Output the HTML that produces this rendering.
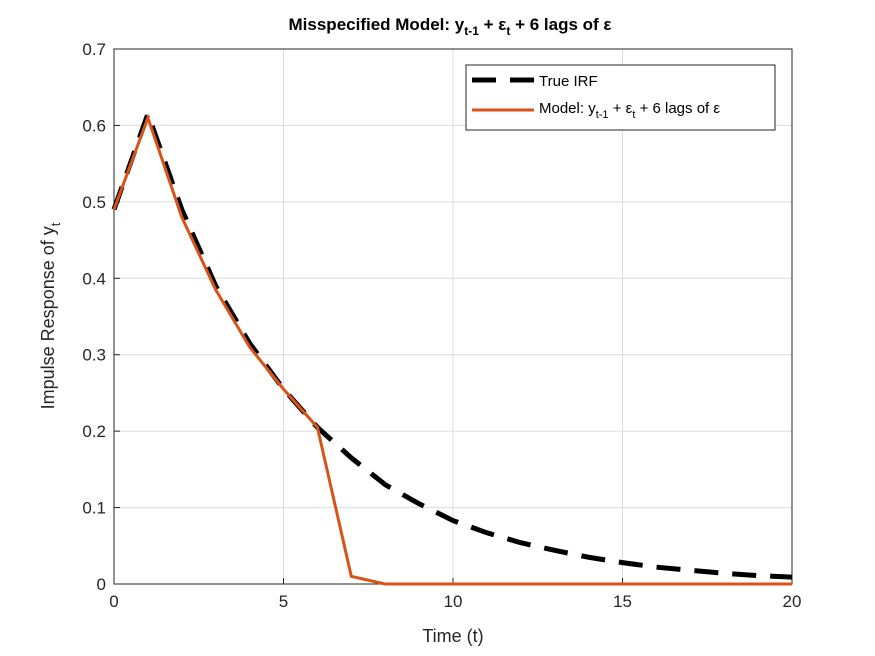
<!DOCTYPE html>
<html><head><meta charset="utf-8"><style>
body{margin:0;background:#fff;}
svg{display:block;font-family:"Liberation Sans",sans-serif;}
</style></head><body>
<svg id="chart" width="875" height="656" viewBox="0 0 875 656">
<rect width="875" height="656" fill="#fff"/>
<g id="grid"></g>
<g id="axes"></g>
<g id="series"></g>
<text x="450" y="30" text-anchor="middle" font-size="17" font-weight="bold" fill="#000">Misspecified Model: y<tspan font-size="12" dy="5">t-1</tspan><tspan dy="-5"> + ε</tspan><tspan font-size="12" dy="5">t</tspan><tspan dy="-5"> + 6 lags of ε</tspan></text>
<text x="453" y="642" text-anchor="middle" font-size="18" fill="#262626">Time (t)</text>
<text transform="translate(54,316) rotate(-90)" text-anchor="middle" font-size="18" fill="#262626">Impulse Response of y<tspan font-size="13" dy="6">t</tspan></text>
<g>
<rect x="466" y="65" width="309" height="65" fill="#fff" stroke="#262626" stroke-width="1"/>
<line x1="472" y1="80" x2="534" y2="80" stroke="#000" stroke-width="5" stroke-dasharray="24,14"/>
<text x="539" y="86" font-size="15" fill="#000">True IRF</text>
<line x1="472" y1="110" x2="534" y2="110" stroke="#D95319" stroke-width="3"/>
<text x="539" y="113" font-size="15" fill="#000">Model: y<tspan font-size="11" dy="5">t-1</tspan><tspan dy="-5"> + ε</tspan><tspan font-size="11" dy="5">t</tspan><tspan dy="-5"> + 6 lags of ε</tspan></text>
</g>
</svg>
<script>
const times=[0,1,2,3,4,5,6,7,8,9,10,11,12,13,14,15,16,17,18,19,20];
const trueIRF=[0.49,0.615,0.49,0.39,0.315,0.255,0.205,0.165,0.13,0.105,0.083,0.067,0.054,0.044,0.035,0.028,0.022,0.018,0.014,0.011,0.009];
const modelIRF=[0.49,0.61,0.48,0.385,0.31,0.255,0.205,0.01,0,0,0,0,0,0,0,0,0,0,0,0,0];
const xTicks=[0,5,10,15,20];
const yTicks=[0,0.1,0.2,0.3,0.4,0.5,0.6,0.7];
const yTickLabels=["0","0.1","0.2","0.3","0.4","0.5","0.6","0.7"];
const X0=114,X1=792,Y0=584,Y1=49;
const sx=v=>X0+(v-0)/(20-0)*(X1-X0);
const sy=v=>Y0-(v-0)/(0.7-0)*(Y0-Y1);
const NS="http://www.w3.org/2000/svg";
const mk=(t,a,p)=>{const e=document.createElementNS(NS,t);for(const k in a)e.setAttribute(k,a[k]);p.appendChild(e);return e;};
const grid=document.getElementById('grid'),axes=document.getElementById('axes'),series=document.getElementById('series');
mk('rect',{x:X0,y:Y1,width:X1-X0,height:Y0-Y1,fill:'#fff'},grid);
xTicks.forEach(v=>{
 const l=mk('line',{x1:sx(v),x2:sx(v),y1:Y1,y2:Y0,stroke:'#dcdcdc','stroke-width':1},grid);
 
 
 const t=mk('line',{x1:sx(v),x2:sx(v),y1:Y0,y2:Y0-6,stroke:'#262626'},axes);
 
 
 const tx=mk('text',{x:sx(v),y:Y0+23,'text-anchor':'middle','font-size':17,fill:'#262626'},axes);
 tx.textContent=v;
 
 
});
yTicks.forEach((v,i)=>{
 const l=mk('line',{x1:X0,x2:X1,y1:sy(v),y2:sy(v),stroke:'#dcdcdc','stroke-width':1},grid);
 
 
 const t=mk('line',{x1:X0,x2:X0+6,y1:sy(v),y2:sy(v),stroke:'#262626'},axes);
 
 
 const tx=mk('text',{x:X0-8,y:sy(v)+6,'text-anchor':'end','font-size':17,fill:'#262626'},axes);
 tx.textContent=yTickLabels[i];
 
 
});
const box=mk('rect',{x:X0,y:Y1,width:X1-X0,height:Y0-Y1,fill:'none',stroke:'#262626','stroke-width':1},axes);


const pts=a=>a.map((v,i)=>sx(times[i])+','+sy(v)).join(' ');
const p1=mk('polyline',{points:pts(trueIRF),fill:'none',stroke:'#000','stroke-width':5,'stroke-dasharray':'24,14'},series);


const p2=mk('polyline',{points:pts(modelIRF),fill:'none',stroke:'#D95319','stroke-width':3},series);


</script>
</body></html>
